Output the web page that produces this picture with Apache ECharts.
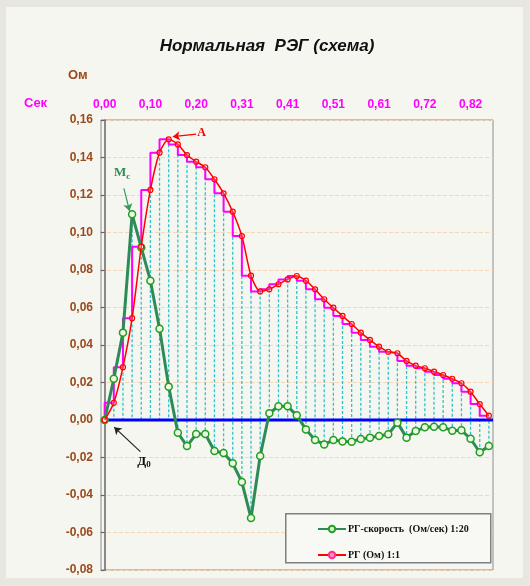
<!DOCTYPE html>
<html>
<head>
<meta charset="utf-8">
<script src="https://cdn.jsdelivr.net/npm/echarts@6/dist/echarts.min.js"></script>
<style>
  html, body { margin:0; padding:0; background:#e7e7df; }
  #wrap { position:relative; width:530px; height:586px; background:#e7e7df; }
  #panel { position:absolute; left:6px; top:7px; width:517px; height:571px; background:#f6f6f1; }
  #chart { position:absolute; left:0; top:0; width:530px; height:586px; }
</style>
</head>
<body>
<div id="wrap"><div id="panel"></div><div id="chart"></div></div>
<script>
// ---- data ----
const tickIndex = [0, 5, 10, 15, 20, 25, 30, 35, 40];
const tickLabels = ['0,00', '0,10', '0,20', '0,31', '0,41', '0,51', '0,61', '0,72', '0,82'];
const rgOhm = [0, 0.0092, 0.0282, 0.0543, 0.0924, 0.1227, 0.1426, 0.1497, 0.147, 0.1413,
  0.1378, 0.1348, 0.1284, 0.1209, 0.1111, 0.0981, 0.077, 0.0686, 0.0697, 0.0724,
  0.075, 0.0768, 0.0743, 0.0697, 0.0644, 0.0599, 0.0555, 0.0512, 0.0466, 0.0427,
  0.0391, 0.0364, 0.0356, 0.0315, 0.029, 0.0276, 0.0258, 0.024, 0.022, 0.0196,
  0.0151, 0.0085, 0.0023];
const rgSpeed = [0, 0.022, 0.0466, 0.1097, 0.092, 0.0743, 0.0487, 0.0178, -0.0068, -0.0139,
  -0.0075, -0.0075, -0.0165, -0.0176, -0.0231, -0.0331, -0.0523, -0.0192, 0.0036, 0.0073,
  0.0073, 0.0025, -0.005, -0.0107, -0.013, -0.0107, -0.0114, -0.0116, -0.0101, -0.0094,
  -0.0085, -0.0076, -0.0014, -0.0094, -0.0059, -0.0039, -0.0036, -0.0039, -0.0057, -0.0055,
  -0.01, -0.0172, -0.0139];
const nameSpeed = 'РГ-скорость  (Ом/сек) 1:20';
const nameOhm = 'РГ (Ом) 1:1';
const xMin = -0.4, xMax = 42.45;

// ---- build ----
const ohmPts = rgOhm.map((v, i) => [i, v]);
const speedPts = rgSpeed.map((v, i) => [i, v]);
const dropPts = rgOhm.map((v, i) => [i, Math.max(v, rgSpeed[i], 0), Math.min(v, rgSpeed[i], 0)]);
const serif = 'Liberation Serif';

const chart = echarts.init(document.getElementById('chart'));
chart.setOption({
  backgroundColor: 'transparent',
  animation: false,
  title: {
    text: 'Нормальная  РЭГ (схема)',
    left: 262, top: 33, textAlign: 'center',
    textStyle: { fontFamily: 'Liberation Sans', fontSize: 17, fontWeight: 'bold', fontStyle: 'italic', color: '#111' }
  },
  graphic: [
    { type: 'text', left: 68, top: 69, style: { text: 'Ом', fill: '#9a4a1c', font: 'bold 13px Liberation Sans' } },
    { type: 'text', left: 24, top: 97, style: { text: 'Сек', fill: '#ff00ff', font: 'bold 13px Liberation Sans' } },
    { type: 'rect', left: 285, top: 513, shape: { width: 205, height: 49 },
      style: { fill: '#f8f8f4', stroke: '#7f7f7f', lineWidth: 1.5 }, z: 5 }
  ],
  legend: {
    orient: 'vertical', left: 312, top: 519, itemWidth: 28, itemHeight: 8, itemGap: 16,
    z: 10,
    data: [
      { name: nameSpeed, itemStyle: { color: '#d8f0d0', borderColor: '#22a022' } },
      { name: nameOhm, itemStyle: { color: '#ff88cc', borderColor: '#ff3080' } }
    ],
    textStyle: { fontFamily: serif, fontWeight: 'bold', fontSize: 10, color: '#111', padding: [0, 0, 0, -3] }
  },
  grid: { left: 101, right: 37, top: 120, bottom: 16, show: true, borderColor: '#8c8c8c', borderWidth: 1, backgroundColor: 'transparent' },
  xAxis: {
    type: 'value', position: 'top', min: xMin, max: xMax,
    axisLine: { show: false }, axisTick: { show: false }, splitLine: { show: false },
    axisLabel: {
      customValues: tickIndex,
      formatter: v => tickLabels[tickIndex.indexOf(Math.round(v))] || '',
      color: '#ff00ff', fontWeight: 'bold', fontSize: 12, fontFamily: 'Liberation Sans', margin: 9
    }
  },
  yAxis: {
    type: 'value', min: -0.08, max: 0.16, interval: 0.02,
    axisLine: { show: true, lineStyle: { color: '#666', width: 1.5 } },
    axisTick: { show: true, length: 4, lineStyle: { color: '#666', width: 1.2 } },
    splitLine: { show: true, lineStyle: { color: '#f7d6b8', type: 'dashed', width: 1 } },
    axisLabel: {
      formatter: v => v.toFixed(2).replace('.', ',').replace('-0,00', '0,00'),
      color: '#9a4a1c', fontWeight: 'bold', fontSize: 12, fontFamily: 'Liberation Sans', margin: 8
    }
  },
  series: [
    {
      type: 'custom', name: 'drops', z: 1, silent: true,
      data: dropPts,
      encode: { x: 0, y: [1, 2] },
      renderItem: (params, api) => {
        const p1 = api.coord([api.value(0), api.value(1)]);
        const p2 = api.coord([api.value(0), api.value(2)]);
        return { type: 'line', shape: { x1: p1[0], y1: p1[1], x2: p2[0], y2: p2[1] },
          style: { stroke: '#2ec4cc', lineWidth: 1.3, lineDash: [3, 2] } };
      }
    },
    {
      type: 'line', name: 'zero', z: 2, silent: true, symbol: 'none',
      data: [[0, 0], [xMax, 0]],
      lineStyle: { color: '#0000ff', width: 3 }
    },
    {
      type: 'line', name: 'step', z: 3, silent: true, symbol: 'none', step: 'start',
      data: ohmPts,
      lineStyle: { color: '#ff00ff', width: 2 }
    },
    {
      type: 'line', name: nameSpeed, z: 4,
      data: speedPts,
      symbol: 'circle', symbolSize: 7,
      itemStyle: { color: '#eef6e6', borderColor: '#1f9e1f', borderWidth: 1.5 },
      lineStyle: { color: '#2e8b57', width: 3 },
      markLine: {
        silent: true, symbol: ['none', 'arrow'], symbolSize: 7, label: { show: false },
        lineStyle: { color: '#2e9b57', width: 1.2, type: 'solid' },
        data: [
          [{ coord: [2.1, 0.1235] }, { coord: [2.72, 0.1115] }],
          [{ coord: [3.9, -0.0169], lineStyle: { color: '#222' } }, { coord: [1.05, -0.0038] }]
        ]
      },
      markPoint: {
        silent: true, symbol: 'rect', symbolSize: 1, itemStyle: { color: 'transparent' },
        data: [
          { coord: [1.9, 0.1318], label: { show: true, position: 'inside', formatter: '{m|М}{s|с}',
            rich: { m: { fontFamily: serif, fontWeight: 'bold', fontSize: 13, color: '#2e8b57' },
                    s: { fontFamily: serif, fontWeight: 'bold', fontSize: 9, color: '#2e8b57', padding: [7, 0, 0, 0] } } } },
          { coord: [4.3, -0.0222], label: { show: true, position: 'inside', formatter: '{m|Д}{s|0}',
            rich: { m: { fontFamily: serif, fontWeight: 'bold', fontSize: 13, color: '#111' },
                    s: { fontFamily: serif, fontWeight: 'bold', fontSize: 9, color: '#111', padding: [7, 0, 0, 0] } } } }
        ]
      }
    },
    {
      type: 'line', name: nameOhm, z: 5,
      data: ohmPts, smooth: 0.25,
      symbol: 'circle', symbolSize: 5,
      itemStyle: { color: 'rgba(255,255,255,0.2)', borderColor: '#ff0000', borderWidth: 1.2 },
      lineStyle: { color: '#ff0000', width: 1.5 },
      markLine: {
        silent: true, symbol: ['none', 'arrow'], symbolSize: 7, label: { show: false },
        lineStyle: { color: '#ff0000', width: 1.2, type: 'solid' },
        data: [[{ coord: [10.0, 0.1525] }, { coord: [7.45, 0.1511] }]]
      },
      markPoint: {
        silent: true, symbol: 'rect', symbolSize: 1, itemStyle: { color: 'transparent' },
        data: [
          { coord: [10.6, 0.1529], label: { show: true, position: 'inside', formatter: 'A',
            fontFamily: serif, fontWeight: 'bold', fontSize: 12, color: '#ff0000' } }
        ]
      }
    }
  ]
});
</script>
</body>
</html>
